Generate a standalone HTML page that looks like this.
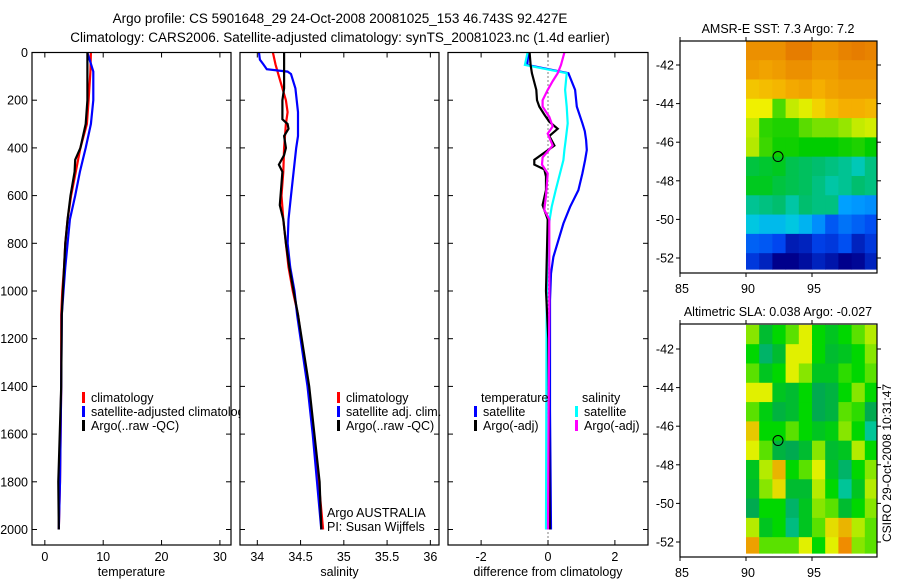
<!DOCTYPE html>
<html><head><meta charset="utf-8"><style>
html,body{margin:0;padding:0;background:#fff;}
svg{display:block;font-family:"Liberation Sans",sans-serif;}
</style></head><body>
<svg id="chart" width="900" height="580" viewBox="0 0 900 580" xmlns="http://www.w3.org/2000/svg">
<rect width="900" height="580" fill="#fff"/>
<text x="340" y="23" font-size="13.5" text-anchor="middle">Argo profile: CS 5901648_29 24-Oct-2008 20081025_153 46.743S 92.427E</text>
<text x="340" y="42" font-size="13.5" text-anchor="middle">Climatology: CARS2006. Satellite-adjusted climatology: synTS_20081023.nc (1.4d earlier)</text>
<g id="plots"></g>
<text transform="translate(891,463) rotate(-90)" font-size="12" text-anchor="middle">CSIRO 29-Oct-2008 10:31:47</text>
</svg>
<script>
// ---------- profile data ----------
const tDepth = [0,80,200,300,400,450,500,600,700,800,900,1000,1100,1400,1800,2000];
const tempClim = [7.9,7.8,7.5,7.2,6.1,5.7,5.3,4.5,3.9,3.5,3.3,3.0,2.8,2.8,2.6,2.4];
const tempSat  = [7.3,8.3,8.3,7.9,7.0,6.5,6.0,5.2,4.3,3.9,3.5,3.2,2.9,2.8,2.6,2.4];
const tempArgo = [7.3,7.3,7.3,7.0,6.1,5.2,5.1,4.4,3.9,3.5,3.3,3.1,2.9,2.8,2.3,2.4];

const sClimDepth = [0,50,100,200,250,300,400,500,600,700,800,900,1000,1100,1400,1600,1800,2000];
const salClim    = [34.18,34.21,34.25,34.33,34.35,34.33,34.31,34.30,34.28,34.30,34.33,34.36,34.41,34.47,34.585,34.655,34.71,34.76];
const sSatDepth  = [0,30,50,70,80,90,150,250,350,400,500,600,700,800,900,1000,1100,1400,1600,1800,2000];
const salSat     = [34.02,34.03,34.07,34.11,34.35,34.39,34.44,34.47,34.47,34.45,34.42,34.39,34.36,34.35,34.38,34.43,34.46,34.58,34.64,34.69,34.74];
const sArgoDepth = [0,150,200,280,300,320,350,400,430,470,500,550,640,700,800,900,1000,1100,1400,1600,1800,2000];
const salArgo    = [34.31,34.31,34.29,34.29,34.35,34.36,34.31,34.33,34.31,34.25,34.29,34.28,34.26,34.30,34.33,34.37,34.42,34.47,34.60,34.66,34.72,34.74];

const dTSatDepth = [0,52,87,157,227,297,330,367,409,451,507,577,647,717,787,857,927,1039,1500,2000];
const diffTempSat = [-0.59,-0.62,0.61,0.81,0.86,1.03,1.10,1.14,1.16,1.11,1.03,0.91,0.66,0.46,0.31,0.16,0.09,0.06,0.06,0.09];
const dSSatDepth = [0,52,87,157,227,297,367,409,451,507,577,647,717,787,1039,1500,2000];
const diffSalSat = [-0.61,-0.69,0.56,0.51,0.56,0.59,0.53,0.49,0.46,0.36,0.23,0.11,0.03,-0.01,-0.04,-0.05,-0.06];
const dTArgoDepth = [0,52,87,120,157,200,227,260,290,320,350,390,450,470,490,520,577,640,700,1000,1200,2000];
const diffTempArgo = [-0.55,-0.52,-0.48,-0.42,-0.35,-0.33,-0.26,-0.11,0.04,0.29,0.04,0.19,-0.41,-0.41,-0.11,-0.06,-0.06,-0.16,-0.01,-0.06,0.01,0.05];
const dSArgoDepth = [0,52,87,120,157,200,227,270,310,340,390,440,470,507,600,660,700,1039,2000];
const diffSalArgo = [0.49,0.39,0.29,0.14,-0.01,-0.16,-0.16,0.04,0.14,-0.01,0.14,-0.16,-0.18,-0.01,-0.06,-0.11,0.04,0.04,0.0];

const depthTicks = [0,200,400,600,800,1000,1200,1400,1600,1800,2000];
const tempTicks = [0,10,20,30];
const salTicks = [34,34.5,35,35.5,36];
const diffTicks = [-2,0,2];

// ---------- map data (1-degree cells, lon 90..100, lat rows from -40.75 southward) ----------
const mapLons = [90,91,92,93,94,95,96,97,98,99];
const mapLats = [-40.75,-41.75,-42.75,-43.75,-44.75,-45.75,-46.75,-47.75,-48.75,-49.75,-50.75,-51.75];
const sstGrid = [
[10,10,10,10.3,10.3,10,10,10.2,10.3,10.2],
[9.8,9.7,9.8,10,10,9.8,9.8,10,10,10],
[9.2,9.3,9.4,9.6,9.7,9.5,9.7,9.8,9.8,9.8],
[8.6,8.6,7.5,8.3,8.5,9,9.3,9.5,9.5,9.4],
[8.3,7.3,7.2,7.2,7.6,7.8,7.8,8.0,8.3,8.4],
[8.2,7.4,7.1,7.1,7.0,7.0,7.0,7.1,7.2,7.0],
[6.6,6.7,6.8,6.5,6.4,6.3,6.2,6.1,5.9,6.2],
[6.8,6.8,6.6,6.5,6.4,6.2,6.0,6.1,6.3,6.2],
[6.1,6.2,6.3,6.0,6.3,6.2,6.2,5.0,4.9,4.8],
[5.6,5.4,5.4,5.6,5.3,4.8,4.2,4.5,4.3,4.1],
[4.3,4.2,4.0,3.4,3.5,3.9,3.8,4.1,3.5,3.8],
[3.8,3.5,3.0,3.0,3.2,3.5,3.3,3.0,3.1,3.5]];
const slaGrid = [
[0.3,-0.3,0,0.2,0.5,0,-0.2,0,0.2,0.4],
[0,-0.6,-0.3,0.5,0.5,0,-0.3,-0.2,0,0.3],
[0.2,-0.2,0,0.5,0.3,-0.2,-0.2,0.1,0,0.2],
[0.5,0.5,-0.2,-0.3,0,-0.5,-0.4,0,0.3,0],
[0.2,-0.1,-0.4,-0.3,0,-0.5,-0.4,0.2,0.1,-0.5],
[0.7,0,0,0.2,0,-0.2,-0.1,0.3,0,-0.8],
[0.5,0.2,-0.4,-0.5,-0.3,0.3,-0.3,-0.2,0.4,0],
[-0.2,0.4,0.8,0,0.2,0.5,-0.2,-0.6,0,0.3],
[-0.3,0.3,0.6,-0.3,-0.3,0.4,0,-0.8,-0.2,0.4],
[-0.5,0,0,-0.6,-0.2,0.3,0.2,-0.3,0,0.3],
[0.4,-0.2,0,-0.7,-0.2,0.2,0.6,0.8,0.4,0.2],
[0.9,0.2,0.2,0.2,0.5,0,0.5,1.0,0.3,0.2]];
const floatLon = 92.427, floatLat = -46.743;
const mapLonTicks = [85,90,95];
const mapLatTicks = [-42,-44,-46,-48,-50,-52];

const NS='http://www.w3.org/2000/svg';
const root=document.getElementById('plots');
function mk(tag,attrs,parent){const e=document.createElementNS(NS,tag);for(const k in attrs)e.setAttribute(k,attrs[k]);(parent||root).appendChild(e);return e;}
function txt(s,attrs,parent){const e=mk('text',attrs,parent);e.textContent=s;return e;}

const PT=52.5, PB=545, yD=d=>PT+d*0.2385;

function panel(name,x0,x1,xmin,xmax,ticks,label,fmt){
  const g=mk('g',{});
  
  
  const sx=v=>x0+(v-xmin)/(xmax-xmin)*(x1-x0);
  const bg=mk('rect',{x:x0,y:PT,width:x1-x0,height:PB-PT,fill:'#fff'},g);
  
  
  ticks.forEach(t=>{
    const x=sx(t);
    mk('line',{x1:x,x2:x,y1:PB,y2:PB-5,stroke:'#000'},g);
    mk('line',{x1:x,x2:x,y1:PT,y2:PT+5,stroke:'#000'},g);
    const tl=txt(fmt(t),{x:x,y:PB+16,'font-size':12.5,'text-anchor':'middle'},g);
    
    
  });
  depthTicks.forEach(d=>{
    mk('line',{x1:x0,x2:x0+5,y1:yD(d),y2:yD(d),stroke:'#000'},g);
    mk('line',{x1:x1,x2:x1-5,y1:yD(d),y2:yD(d),stroke:'#000'},g);
  });
  const al=txt(label,{x:(x0+x1)/2,y:576,'font-size':12.5,'text-anchor':'middle'},g);
  
  
  return {g,sx};
}
function series(p,name,depths,vals,color){
  const pts=depths.map((d,i)=>p.sx(vals[i]).toFixed(1)+','+yD(d).toFixed(1)).join(' ');
  const l=mk('polyline',{points:pts,fill:'none',stroke:color,'stroke-width':2.2},p.g);
  
  
}
function frame(p,x0,x1){mk('rect',{x:x0,y:PT,width:x1-x0,height:PB-PT,fill:'none',stroke:'#000','stroke-width':1.2},p.g);}
function legend(p,items,x,y){
  items.forEach((it,i)=>{
    if(it.color){const m=mk('rect',{x:x,y:y+i*14-10,width:3,height:11,fill:it.color},p.g);
      
      }
    if(!it.label) return;
    const t=txt(it.label,{x:x+(it.color?9:0),y:y+i*14,'font-size':12.5},p.g);
    
    
  });
}

depthTicks.forEach(d=>{
  const t=txt(String(d),{x:28,y:yD(d)+4.5,'font-size':12.5,'text-anchor':'end'});
  
  
});

const p1=panel('temperature-panel',32,231,-2.2,31.9,tempTicks,'temperature',String);
series(p1,'temp-climatology-line',tDepth,tempClim,'#ff0000');
series(p1,'temp-satellite-line',tDepth,tempSat,'#0000ff');
series(p1,'temp-argo-line',tDepth,tempArgo,'#000000');
legend(p1,[{label:'climatology',color:'#f00'},{label:'satellite-adjusted climatology',color:'#00f'},{label:'Argo(..raw -QC)',color:'#000'}],82,402);
frame(p1,32,231);

const p2=panel('salinity-panel',240,439,33.8,36.1,salTicks,'salinity',String);
series(p2,'sal-climatology-line',sClimDepth,salClim,'#ff0000');
series(p2,'sal-satellite-line',sSatDepth,salSat,'#0000ff');
series(p2,'sal-argo-line',sArgoDepth,salArgo,'#000000');
legend(p2,[{label:'climatology',color:'#f00'},{label:'satellite adj. clim.',color:'#00f'},{label:'Argo(..raw -QC)',color:'#000'}],337,402);
legend(p2,[{label:'Argo AUSTRALIA'},{label:'PI: Susan Wijffels'}],327,517);
frame(p2,240,439);

const p3=panel('difference-panel',448,648,-2.99,2.99,diffTicks,'difference from climatology',String);
const z=p3.sx(0);
const zl=mk('line',{x1:z,x2:z,y1:PT,y2:PB,stroke:'#000','stroke-dasharray':'1,3'},p3.g);


series(p3,'diff-temp-satellite-line',dTSatDepth,diffTempSat,'#0000ff');
series(p3,'diff-sal-satellite-line',dSSatDepth,diffSalSat,'#00ffff');
series(p3,'diff-temp-argo-line',dTArgoDepth,diffTempArgo,'#000000');
series(p3,'diff-sal-argo-line',dSArgoDepth,diffSalArgo,'#ff00ff');
const th=txt('temperature',{x:481,y:402,'font-size':12.5},p3.g);


legend(p3,[{label:''},{label:'satellite',color:'#00f'},{label:'Argo(-adj)',color:'#000'}],474,402);
const sh=txt('salinity',{x:582,y:402,'font-size':12.5},p3.g);


legend(p3,[{label:''},{label:'satellite',color:'#0ff'},{label:'Argo(-adj)',color:'#f0f'}],575,402);
frame(p3,448,648);

// ---------- maps ----------
function interp(stops,v){
  if(v<=stops[0][0]) return 'rgb('+stops[0][1].join(',')+')';
  for(let i=0;i<stops.length-1;i++){const a=stops[i],b=stops[i+1];
    if(v<=b[0]){const f=(v-a[0])/(b[0]-a[0]);return 'rgb('+a[1].map((c,k)=>Math.round(c+(b[1][k]-c)*f)).join(',')+')';}}
  return 'rgb('+stops[stops.length-1][1].join(',')+')';
}
const sstStops=[[3,[0,0,140]],[4,[0,70,240]],[5,[0,160,255]],[5.7,[0,205,220]],[6.3,[0,190,110]],[7,[0,205,0]],[8,[150,230,0]],[8.6,[240,240,0]],[9.5,[245,175,0]],[10.3,[230,125,0]]];
const slaStops=[[-1,[0,215,200]],[-0.5,[0,170,80]],[0,[0,215,0]],[0.5,[225,240,0]],[1,[240,140,0]]];
function map(name,top,bottom,latAt42,title,grid,colorFn){
  const g=mk('g',{});
  
  
  const L=680,R=877,ppd=13.2,ppl=19.3;
  const sx=lon=>L+(lon-85)*ppd, sy=lat=>latAt42+(-42-lat)*ppl;
  const cid=name+'-clip';
  const cp=mk('clipPath',{id:cid},g);mk('rect',{x:L,y:top,width:R-L,height:sy(-52.6)-top},cp);
  const cg=mk('g',{'clip-path':`url(#${cid})`},g);
  grid.forEach((row,i)=>row.forEach((v,j)=>{
    const c=mk('rect',{x:sx(mapLons[j]),y:sy(mapLats[i]),width:ppd+0.5,height:ppl+0.5,fill:colorFn(v)},cg);
    
    
  }));
  mk('rect',{x:L,y:top,width:R-L,height:bottom-top,fill:'none',stroke:'#000','stroke-width':1.2},g);
  mapLonTicks.forEach(lon=>{const x=sx(lon);
    mk('line',{x1:x,x2:x,y1:top,y2:top-4,stroke:'#000'},g);
    mk('line',{x1:x,x2:x,y1:bottom,y2:bottom+4,stroke:'#000'},g);
    const t=txt(String(lon),{x:x+2,y:bottom+20,'font-size':12.5,'text-anchor':'middle'},g);
    
    });
  mapLatTicks.forEach(lat=>{const y=sy(lat);
    mk('line',{x1:L,x2:L-4,y1:y,y2:y,stroke:'#000'},g);
    mk('line',{x1:R,x2:R+4,y1:y,y2:y,stroke:'#000'},g);
    const t=txt(String(lat),{x:L-6,y:y+4.5,'font-size':12.5,'text-anchor':'end'},g);
    
    });
  const tt=txt(title,{x:778,y:top-8,'font-size':12.5,'text-anchor':'middle'},g);
  
  
  const fc=mk('circle',{cx:sx(floatLon),cy:sy(floatLat),r:5,fill:'none',stroke:'#000','stroke-width':1},g);
  
  
}
map('sst-map',41,273,65,'AMSR-E SST: 7.3 Argo: 7.2',sstGrid,v=>interp(sstStops,v));
map('sla-map',324,557,349,'Altimetric SLA: 0.038 Argo: -0.027',slaGrid,v=>interp(slaStops,v));
</script>
</body></html>
